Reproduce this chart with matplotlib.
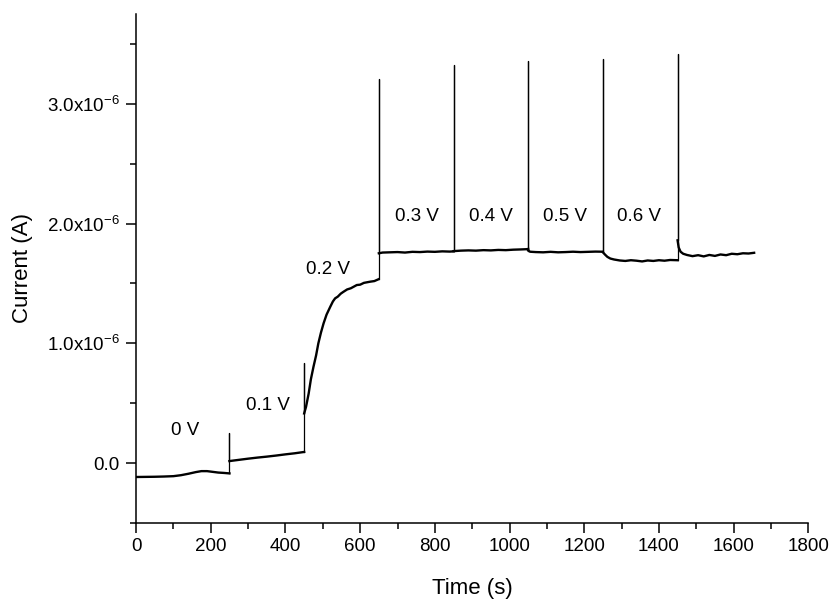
import matplotlib
matplotlib.use("Agg")
import matplotlib.pyplot as plt
from matplotlib.ticker import FixedLocator, MultipleLocator, FuncFormatter

plt.rcParams['font.family'] = ['Liberation Sans', 'DejaVu Sans']
plt.rcParams['mathtext.default'] = 'regular'

# current values in units of 1e-6 A
t_0v = [0, 25, 50, 75, 100, 120, 140, 160, 175, 190, 205, 220, 235, 250]
i_0v = [-0.115, -0.114, -0.113, -0.111, -0.108, -0.100, -0.088, -0.074, -0.066,
        -0.066, -0.072, -0.078, -0.081, -0.085]

t_01v = [250, 275, 300, 325, 350, 375, 400, 425, 450]
i_01v = [0.018, 0.028, 0.038, 0.047, 0.055, 0.064, 0.074, 0.083, 0.094]

t_02v = [450, 455, 462, 468, 475, 482, 488, 495, 502, 510, 520, 527, 533, 540,
         548, 555, 565, 575, 591, 600, 610, 627, 638, 649]
i_02v = [0.415, 0.47, 0.58, 0.70, 0.805, 0.90, 1.00, 1.09, 1.167, 1.24, 1.306,
         1.35, 1.376, 1.39, 1.415, 1.43, 1.45, 1.46, 1.487, 1.49, 1.505, 1.515,
         1.52, 1.535]

t_03v = [650, 660, 680, 700, 720, 740, 760, 780, 800, 820, 840, 850]
i_03v = [1.752, 1.758, 1.760, 1.762, 1.758, 1.764, 1.762, 1.766, 1.764, 1.768,
         1.766, 1.768]

t_04v = [850, 870, 890, 910, 930, 950, 970, 990, 1010, 1030, 1045, 1050]
i_04v = [1.770, 1.774, 1.776, 1.774, 1.778, 1.776, 1.780, 1.778, 1.782, 1.784,
         1.786, 1.788]

t_05v = [1050, 1055, 1070, 1090, 1110, 1130, 1150, 1170, 1190, 1210, 1230, 1250]
i_05v = [1.775, 1.765, 1.762, 1.760, 1.764, 1.760, 1.762, 1.765, 1.762, 1.764,
         1.766, 1.765]

t_06v = [1250, 1256, 1262, 1270, 1280, 1295, 1310, 1325, 1340, 1355, 1370, 1385,
         1400, 1415, 1430, 1450]
i_06v = [1.760, 1.740, 1.722, 1.708, 1.700, 1.692, 1.688, 1.694, 1.690, 1.684,
         1.692, 1.688, 1.694, 1.690, 1.696, 1.694]

t_post = [1450, 1453, 1458, 1465, 1475, 1490, 1505, 1520, 1535, 1550, 1565, 1580,
          1595, 1610, 1625, 1640, 1655]
i_post = [1.860, 1.800, 1.765, 1.748, 1.738, 1.728, 1.736, 1.726, 1.738, 1.730,
          1.742, 1.736, 1.748, 1.744, 1.752, 1.750, 1.756]

# potential steps and the transient peaks at each switch
step_times = [250, 450, 650, 850, 1050, 1250, 1450]
spike_peaks = [0.256, 0.835, 3.205, 3.320, 3.353, 3.373, 3.414]

step_labels = ['0 V', '0.1 V', '0.2 V', '0.3 V', '0.4 V', '0.5 V', '0.6 V']
label_x = [131, 354, 515, 752, 951, 1149, 1348]
label_y = [0.27, 0.48, 1.62, 2.06, 2.06, 2.06, 2.06]

segments = [(t_0v, i_0v), (t_01v, i_01v), (t_02v, i_02v), (t_03v, i_03v),
            (t_04v, i_04v), (t_05v, i_05v), (t_06v, i_06v), (t_post, i_post)]

fig = plt.figure(figsize=(8.35, 6.02), dpi=100)
ax = fig.add_axes([0.163, 0.131, 0.805, 0.846])

for t, i in segments:
    ax.plot(t, [v * 1e-6 for v in i], color='black', lw=1.7,
            solid_joinstyle='round')

for k, ts in enumerate(step_times):
    prev_end = segments[k][1][-1]
    next_start = segments[k + 1][1][0]
    ax.plot([ts, ts, ts], [prev_end * 1e-6, spike_peaks[k] * 1e-6,
                           next_start * 1e-6], color='black', lw=0.9)

for txt, x, y in zip(step_labels, label_x, label_y):
    ax.text(x, y * 1e-6, txt, ha='center', va='center', fontsize=13.5)

ax.set_xlim(0, 1800)
ax.set_ylim(-0.5e-6, 3.75e-6)
ax.xaxis.set_major_locator(MultipleLocator(200))
ax.xaxis.set_minor_locator(MultipleLocator(100))
ax.yaxis.set_major_locator(FixedLocator([0, 1e-6, 2e-6, 3e-6]))
ax.yaxis.set_minor_locator(FixedLocator([-0.5e-6, 0.5e-6, 1.5e-6, 2.5e-6, 3.5e-6]))


def yfmt(v, pos):
    if abs(v) < 1e-12:
        return '0.0'
    return '%.1fx10$^{-6}$' % (v * 1e6)


ax.yaxis.set_major_formatter(FuncFormatter(yfmt))

for side in ['top', 'right']:
    ax.spines[side].set_visible(False)
for side in ['left', 'bottom']:
    ax.spines[side].set_linewidth(1.1)
ax.tick_params(which='major', direction='out', length=7, width=1.1,
               labelsize=13.5)
ax.tick_params(axis='x', which='major', pad=4)
ax.tick_params(axis='y', which='major', pad=5)
ax.tick_params(which='minor', direction='out', length=4, width=1.1)

ax.set_xlabel('Time (s)', fontsize=16, labelpad=16)
ax.set_ylabel('Current (A)', fontsize=16, labelpad=10)

fig.savefig('out.png', dpi=100)
